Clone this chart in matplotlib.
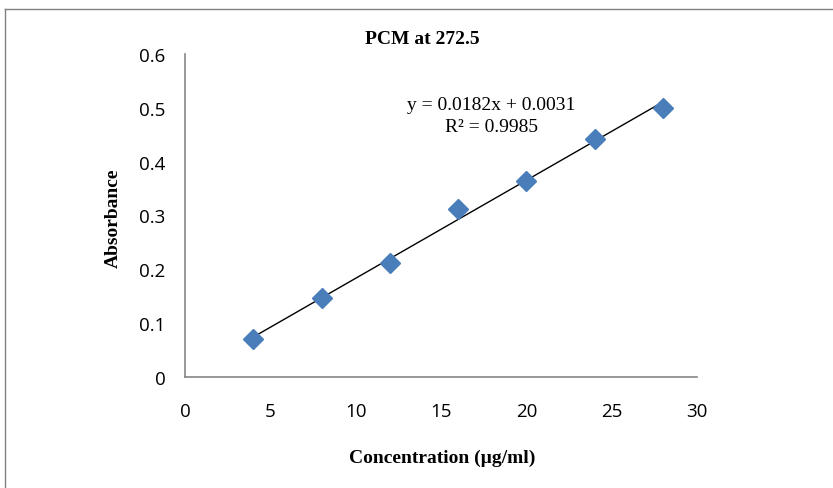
import numpy as np
import matplotlib.pyplot as plt
from matplotlib.lines import Line2D

conc = [4, 8, 12, 16, 20, 24, 28]
absorb = [0.070, 0.146, 0.211, 0.313, 0.365, 0.443, 0.500]
x_ticks = [0, 5, 10, 15, 20, 25, 30]
y_ticks = [0, 0.1, 0.2, 0.3, 0.4, 0.5, 0.6]
y_labels = ["0", "0.1", "0.2", "0.3", "0.4", "0.5", "0.6"]

serif = "Liberation Serif"
sans = ["Liberation Sans Narrow", "Open Sans"]


def main():
    fig = plt.figure(figsize=(8.33, 4.89), dpi=100)
    ax = fig.add_axes([185 / 833, 1 - 378 / 489, 512 / 833, 323 / 489])

    # linear trendline through the points
    slope, intercept = np.polyfit(conc, absorb, 1)
    xs = np.array([conc[0], conc[-1]])
    ax.plot(xs, slope * xs + intercept, color="black", lw=1.0, zorder=2)
    ax.plot(conc, absorb, linestyle="none", marker="D", ms=10,
            color="#4a7ebb", mec="#4a7ebb", zorder=3)

    ax.set_xlim(0, 30)
    ax.set_ylim(0, 0.6)
    ax.set_xticks(x_ticks)
    ax.set_yticks(y_ticks)
    ax.set_yticklabels(y_labels)
    for lab in ax.get_xticklabels() + ax.get_yticklabels():
        lab.set_fontfamily(sans)
        lab.set_fontsize(13.5)
    ax.tick_params(length=0)
    ax.tick_params(axis="x", pad=18)
    ax.tick_params(axis="y", pad=14)
    for s in ["top", "right"]:
        ax.spines[s].set_visible(False)
    for s in ["left", "bottom"]:
        ax.spines[s].set_color("#868686")
        ax.spines[s].set_linewidth(1.2)

    fig.text(422 / 833, 1 - 40 / 489, "PCM at 272.5", family=serif,
             weight="bold", fontsize=14, ha="center", va="center")
    fig.text(491 / 833, 1 - 105 / 489, "y = 0.0182x + 0.0031", family=serif,
             fontsize=14, ha="center", va="center")
    fig.text(491 / 833, 1 - 127 / 489, "R² = 0.9985", family=serif,
             fontsize=14, ha="center", va="center")
    fig.text(113 / 833, 1 - 218 / 489, "Absorbance", family=serif,
             weight="bold", fontsize=14, rotation=90, ha="center", va="center")
    fig.text(442 / 833, 1 - 458 / 489, "Concentration (µg/ml)", family=serif,
             weight="bold", fontsize=14, ha="center", va="center")

    # outer frame (top and left edges visible)
    fig.add_artist(Line2D([5 / 833, 1], [1 - 9.5 / 489, 1 - 9.5 / 489],
                          color="#808080", lw=1, transform=fig.transFigure))
    fig.add_artist(Line2D([5 / 833, 5 / 833], [0, 1 - 9.5 / 489],
                          color="#808080", lw=1, transform=fig.transFigure))

    fig.savefig("out.png", dpi=100)


if __name__ == "__main__":
    main()
